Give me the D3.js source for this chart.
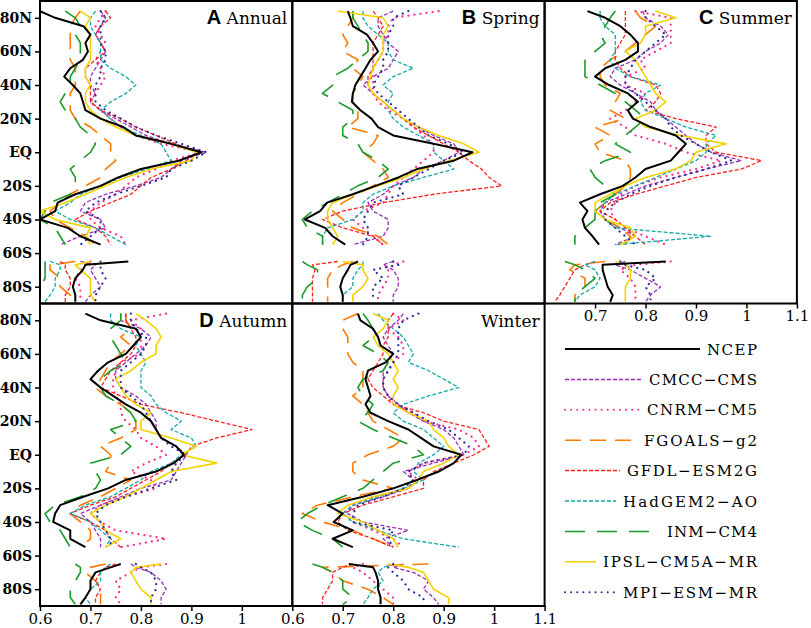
<!DOCTYPE html>
<html><head><meta charset="utf-8">
<script src="https://cdn.jsdelivr.net/npm/d3@7/dist/d3.min.js"></script>
<style>
html,body{margin:0;padding:0;background:#fff;}
svg{display:block;}
</style></head>
<body>
<svg id="chart" width="811" height="628"></svg>
<script>
// ---------------- DATA ----------------
const models = ["NCEP","CMCC−CMS","CNRM−CM5","FGOALS−g2","GFDL−ESM2G","HadGEM2−AO","INM−CM4","IPSL−CM5A−MR","MPI−ESM−MR"];
const lats = [84,80,75,70,65,60,55,50,45,40,35,30,25,20,15,10,5,0,-5,-10,-15,-20,-25,-30,-35,-40,-45,-50,-55,-60,-65,-67,-70,-75,-80,-85,-89];
const yTickValues = [80,60,40,20,0,-20,-40,-60,-80];
const yTickLabels = ["80N","60N","40N","20N","EQ","20S","40S","60S","80S"];
const xTickValues = [0.6,0.7,0.8,0.9,1,1.1];
const xTickLabels = ["0.6","0.7","0.8","0.9","1","1.1"];

const annual = [
 [0.60,0.63,0.686,0.70,0.69,0.695,0.685,0.66,0.648,0.665,0.68,0.685,0.69,0.72,0.765,0.79,0.86,0.92,0.875,0.80,0.755,0.72,0.67,0.635,0.63,0.60,0.655,0.68,0.72,null,0.775,0.69,0.685,0.67,0.665,0.67,0.67],
 [0.72,0.73,0.72,0.71,0.72,0.73,0.72,0.71,0.70,0.70,0.71,0.70,0.72,0.75,0.78,0.81,0.86,0.93,0.88,0.86,0.84,0.79,0.73,0.69,0.68,0.72,0.73,0.68,0.64,null,0.68,0.71,0.70,0.71,0.72,0.70,0.69],
 [0.73,0.72,0.71,0.72,0.73,0.72,0.71,0.72,0.73,0.72,0.71,0.70,0.72,0.74,0.76,0.79,0.84,0.92,0.86,0.83,0.79,0.77,0.75,0.72,0.70,0.70,0.72,0.76,0.77,null,0.70,0.69,0.68,0.67,0.68,0.68,0.68],
 [0.68,0.67,0.66,0.66,0.66,0.66,0.66,0.67,0.67,0.67,0.66,0.66,0.66,0.67,0.70,0.72,0.74,0.74,0.75,0.73,0.72,0.69,0.66,0.64,0.62,0.63,0.66,0.69,0.71,null,0.67,0.62,0.62,0.64,0.64,0.66,0.67],
 [0.73,0.74,0.72,0.71,0.72,0.73,0.71,0.69,0.69,0.70,0.70,0.70,0.72,0.76,0.79,0.83,0.87,0.91,0.89,0.86,0.82,0.80,0.78,0.74,0.70,0.67,0.71,0.73,0.74,null,0.64,0.65,0.65,0.66,0.66,0.65,0.65],
 [0.71,0.70,0.70,0.71,0.72,0.72,0.72,0.74,0.77,0.79,0.77,0.74,0.72,0.74,0.76,0.80,0.84,0.85,0.86,0.81,0.76,0.72,0.68,0.66,0.63,0.66,0.71,0.74,0.77,null,0.62,0.64,0.64,0.63,0.63,0.62,0.61],
 [0.65,0.67,0.68,0.67,0.68,0.68,0.68,0.67,0.66,0.66,0.65,0.64,0.65,0.67,0.68,0.70,0.71,0.70,0.68,0.66,0.67,0.67,0.66,0.62,0.61,0.60,0.63,0.64,0.65,null,0.61,0.61,0.61,0.61,0.60,0.60,0.60],
 [0.68,0.70,0.69,0.70,0.70,0.70,0.70,0.69,0.69,0.70,0.69,0.69,0.70,0.72,0.75,0.79,0.86,0.91,0.90,0.82,0.77,0.73,0.69,0.65,0.60,0.63,0.70,0.69,0.70,null,0.70,0.67,0.68,0.70,0.70,0.70,0.71],
 [0.72,0.73,0.72,0.72,0.72,0.73,0.73,0.72,0.72,0.71,0.71,0.71,0.73,0.76,0.79,0.83,0.88,0.93,0.90,0.86,0.85,0.80,0.75,0.71,0.69,0.72,0.72,0.70,0.68,null,0.72,0.72,0.72,0.73,0.72,0.71,0.71]
];
const spring = [
 [0.71,0.715,0.72,0.748,0.76,0.77,0.755,0.745,0.735,0.725,0.72,0.718,0.735,0.757,0.77,0.80,0.88,0.957,0.92,0.847,0.81,0.765,0.72,0.669,0.655,0.625,0.665,0.68,0.705,null,0.73,0.715,0.71,0.70,0.695,0.70,0.70],
 [0.80,0.77,0.77,0.78,0.79,0.81,0.80,0.79,0.76,0.74,0.76,0.78,0.80,0.82,0.85,0.88,0.92,0.93,0.90,0.86,0.84,0.80,0.78,0.75,0.76,0.79,0.79,0.78,0.72,null,0.80,0.78,0.80,0.81,0.81,0.80,0.80],
 [0.89,0.80,0.79,0.79,0.78,0.78,0.77,0.76,0.76,0.76,0.76,0.77,0.79,0.82,0.84,0.86,0.88,0.88,0.86,0.84,0.82,0.80,0.79,0.78,0.74,0.72,0.74,0.76,0.78,null,0.82,0.80,0.79,0.79,0.78,0.77,0.77],
 [0.72,0.72,0.71,0.70,0.71,0.70,0.73,0.72,0.74,0.73,0.72,0.72,0.73,0.73,0.71,0.77,0.76,0.74,0.76,0.78,0.79,0.76,0.73,0.70,0.68,0.70,0.72,0.77,0.79,null,0.72,0.70,0.68,0.67,0.67,0.67,0.67],
 [0.76,0.77,0.78,0.77,0.76,0.76,0.76,0.76,0.75,0.75,0.76,0.78,0.80,0.82,0.84,0.87,0.90,0.93,0.95,0.975,0.99,1.015,0.88,0.78,0.70,0.66,0.70,0.76,0.78,null,0.69,0.64,0.645,0.64,0.64,0.64,0.64],
 [0.74,0.74,0.75,0.77,0.79,0.79,0.80,0.84,0.80,0.78,0.80,0.79,0.79,0.80,0.82,0.85,0.88,0.88,0.90,0.92,0.86,0.80,0.76,0.74,0.74,0.72,0.67,0.66,0.66,null,0.74,0.74,0.73,0.72,0.72,0.70,0.70],
 [0.72,0.72,0.73,0.74,0.75,0.75,0.73,0.71,0.68,0.68,0.66,0.69,0.72,0.72,0.70,0.70,0.73,0.74,0.77,0.79,0.77,0.73,0.70,0.67,0.64,0.62,0.63,0.66,0.66,null,0.62,0.63,0.65,0.65,0.63,0.62,0.62],
 [0.69,0.78,0.79,0.78,0.78,0.78,0.77,0.76,0.755,0.75,0.76,0.78,0.80,0.82,0.85,0.89,0.94,0.97,0.91,0.86,0.82,0.77,0.72,0.68,0.67,0.67,0.68,0.69,0.68,null,0.70,0.74,0.74,0.75,0.74,0.72,0.72],
 [0.83,0.80,0.80,0.79,0.79,0.79,0.78,0.78,0.77,0.76,0.77,0.79,0.81,0.83,0.85,0.87,0.91,0.94,0.90,0.87,0.84,0.81,0.82,0.76,0.75,0.74,0.75,0.75,0.74,null,0.80,0.81,0.76,0.78,0.76,0.76,0.76]
];
const summer = [
 [0.685,0.72,0.75,0.77,0.785,0.785,0.76,0.72,0.70,0.728,0.765,0.785,0.765,0.775,0.81,0.86,0.88,0.865,0.85,0.80,0.78,0.755,0.71,0.67,0.685,0.675,0.68,0.695,0.708,null,0.84,0.715,0.715,0.72,0.725,0.735,0.73],
 [0.794,0.80,0.83,0.845,0.83,0.80,0.78,0.74,0.73,0.75,0.78,0.81,0.82,0.84,0.86,0.88,0.90,0.93,0.99,0.92,0.86,0.80,0.76,0.72,0.71,0.72,0.75,0.78,0.74,null,0.76,0.74,0.77,0.80,0.83,0.81,0.80],
 [0.78,0.85,0.85,0.85,0.85,0.82,0.79,0.80,0.76,0.76,0.80,0.78,0.76,0.73,0.76,0.78,0.84,0.88,0.95,0.90,0.83,0.78,0.75,0.74,0.73,0.74,0.76,0.80,0.84,null,0.85,0.78,0.75,0.77,0.78,0.78,0.78],
 [0.78,0.79,0.82,0.80,0.78,0.76,0.73,0.71,0.71,0.72,0.75,0.74,0.73,0.76,0.70,0.73,0.70,0.71,0.76,0.77,0.77,0.76,0.74,0.72,0.70,0.72,0.75,0.77,0.76,null,0.72,0.66,0.65,0.68,0.68,0.66,0.66],
 [0.76,0.76,0.76,0.76,0.75,0.74,0.74,0.75,0.77,0.82,0.83,0.82,0.80,0.86,0.94,0.92,0.92,0.94,1.03,0.99,0.90,0.84,0.78,0.73,0.71,0.74,0.76,0.78,0.80,null,0.70,0.68,0.66,0.65,0.64,0.63,0.62],
 [0.71,0.71,0.72,0.74,0.74,0.74,0.73,0.74,0.77,0.83,0.80,0.79,0.80,0.84,0.88,0.94,0.92,0.92,0.90,0.86,0.82,0.78,0.74,0.72,0.70,0.72,0.74,0.93,0.74,null,0.70,0.68,0.70,0.71,0.70,0.67,0.66],
 [0.74,0.73,0.72,0.71,0.72,0.70,0.68,0.68,0.68,0.71,0.74,0.76,0.78,0.80,0.78,0.76,0.74,0.77,0.72,0.69,0.70,0.72,0.74,0.71,0.70,0.70,0.68,0.66,0.66,null,0.64,0.66,0.68,0.70,0.68,0.66,0.66],
 [0.82,0.86,0.80,0.80,0.79,0.76,0.78,0.79,0.80,0.81,0.82,0.84,0.82,0.78,0.80,0.87,0.96,0.90,0.89,0.86,0.80,0.76,0.73,0.70,0.70,0.72,0.77,0.78,0.75,null,0.74,0.76,0.77,0.77,0.76,0.76,0.76],
 [0.80,0.80,0.82,0.84,0.82,0.80,0.78,0.77,0.76,0.76,0.78,0.80,0.82,0.84,0.85,0.87,0.90,0.93,0.97,0.92,0.86,0.81,0.77,0.74,0.72,0.72,0.74,0.76,0.78,null,0.75,0.76,0.80,0.82,0.80,0.81,0.81]
];
const autumn = [
 [0.69,0.72,0.79,0.80,0.785,0.77,0.735,0.715,0.70,0.72,0.745,0.77,0.80,0.82,0.83,0.84,0.87,0.885,0.865,0.83,0.77,0.735,0.686,0.64,0.63,0.626,0.66,0.66,0.69,null,0.76,0.74,0.71,0.70,0.70,0.69,0.68],
 [0.76,0.76,0.80,0.82,0.81,0.79,0.77,0.75,0.75,0.76,0.79,0.81,0.82,0.83,0.83,0.84,0.87,0.89,0.88,0.87,0.86,0.80,0.76,0.72,0.68,0.70,0.71,0.72,0.72,null,0.78,0.79,0.82,0.84,0.85,0.84,0.84],
 [0.85,0.78,0.80,0.80,0.80,0.80,0.76,0.75,0.745,0.745,0.75,0.76,0.76,0.77,0.79,0.80,0.83,0.85,0.81,0.78,0.82,0.83,0.77,0.72,0.70,0.72,0.75,0.85,0.76,null,0.85,0.80,0.78,0.75,0.76,0.75,0.76],
 [0.77,0.77,0.78,0.76,0.78,0.76,0.74,0.73,0.72,0.71,0.73,0.76,0.78,0.79,0.79,0.76,0.72,0.74,0.74,0.73,0.78,0.75,0.72,0.68,0.66,0.68,0.70,0.70,0.68,null,0.73,0.70,0.69,0.71,0.72,0.72,0.72],
 [0.77,0.77,0.78,0.79,0.79,0.78,0.76,0.74,0.73,0.72,0.76,0.80,0.88,0.95,1.02,0.95,0.90,0.89,0.86,0.84,0.81,0.78,0.75,0.70,0.66,0.70,0.73,0.74,0.76,null,0.75,0.73,0.72,0.71,0.72,0.71,0.71],
 [0.74,0.74,0.76,0.80,0.79,0.80,0.81,0.80,0.80,0.80,0.82,0.83,0.85,0.88,0.86,0.90,0.91,0.88,0.86,0.82,0.80,0.77,0.74,0.69,0.66,0.70,0.72,0.74,0.73,null,0.74,0.73,0.72,0.72,0.70,0.69,0.70],
 [0.76,0.76,0.74,0.74,0.75,0.76,0.77,0.74,0.72,0.72,0.73,0.76,0.78,0.79,0.74,0.76,0.78,0.76,0.70,0.71,0.72,0.71,0.68,0.63,0.61,0.62,0.64,0.65,0.66,null,0.67,0.68,0.68,0.67,0.66,0.66,0.67],
 [0.79,0.81,0.83,0.84,0.83,0.83,0.80,0.78,0.75,0.76,0.77,0.79,0.82,0.80,0.80,0.86,0.91,0.88,0.95,0.86,0.83,0.80,0.77,0.73,0.70,0.72,0.73,0.76,0.73,null,0.84,0.79,0.78,0.79,0.80,0.82,0.82],
 [0.78,0.78,0.79,0.81,0.81,0.80,0.78,0.76,0.76,0.76,0.78,0.80,0.81,0.82,0.83,0.84,0.86,0.89,0.87,0.86,0.87,0.82,0.77,0.73,0.71,0.72,0.73,0.74,0.74,null,0.79,0.80,0.82,0.83,0.83,0.82,0.82]
];
const winter = [
 [0.73,0.735,0.76,0.77,0.775,0.80,0.785,0.75,0.745,0.75,0.755,0.745,0.755,0.79,0.83,0.855,0.88,0.935,0.92,0.89,0.847,0.80,0.74,0.67,0.70,0.682,0.72,0.68,0.72,null,0.712,0.76,0.765,0.77,0.77,0.775,0.775],
 [0.82,0.81,0.79,0.78,0.79,0.80,0.79,0.78,0.78,0.78,0.79,0.81,0.83,0.86,0.90,0.92,0.93,0.94,0.88,0.82,0.84,0.83,0.78,0.72,0.71,0.74,0.83,0.78,0.80,null,0.82,0.80,0.84,0.87,0.86,0.88,0.89],
 [0.80,0.82,0.79,0.81,0.82,0.82,0.80,0.79,0.78,0.78,0.79,0.80,0.84,0.86,0.93,0.96,0.97,0.94,0.86,0.83,0.85,0.83,0.76,0.72,0.70,0.72,0.76,0.80,0.82,null,0.74,0.72,0.74,0.76,0.78,0.80,0.80],
 [0.73,0.70,0.70,0.71,0.71,0.71,0.72,0.74,0.74,0.74,0.72,0.74,0.75,0.76,0.79,0.82,0.80,0.75,0.72,0.72,0.74,0.80,0.72,0.65,0.62,0.66,0.72,0.76,0.80,null,0.87,0.66,0.68,0.70,0.75,0.78,0.80],
 [0.80,0.79,0.79,0.79,0.78,0.78,0.77,0.76,0.75,0.76,0.78,0.80,0.86,0.90,0.97,0.98,0.99,0.96,0.92,0.88,0.86,0.86,0.80,0.74,0.70,0.69,0.71,0.76,0.80,null,0.72,0.70,0.68,0.68,0.67,0.66,0.66],
 [0.77,0.78,0.80,0.82,0.83,0.84,0.83,0.87,0.90,0.93,0.87,0.82,0.80,0.82,0.86,0.88,0.90,0.88,0.85,0.84,0.86,0.82,0.77,0.72,0.70,0.72,0.77,0.82,0.93,null,0.80,0.78,0.77,0.78,0.76,0.75,0.74],
 [0.74,0.75,0.76,0.76,0.74,0.77,0.79,0.78,0.74,0.73,0.74,0.76,0.75,0.73,0.76,0.80,0.84,0.86,0.80,0.78,0.76,0.74,0.70,0.66,0.63,0.61,0.64,0.68,0.70,null,0.64,0.66,0.68,0.70,0.70,0.72,0.70],
 [0.76,0.79,0.78,0.76,0.77,0.79,0.80,0.81,0.80,0.81,0.80,0.80,0.83,0.87,0.88,0.90,0.91,0.93,0.90,0.86,0.85,0.83,0.76,0.71,0.69,0.74,0.77,0.80,0.81,null,0.79,0.83,0.86,0.87,0.88,0.91,0.91],
 [0.85,0.82,0.81,0.81,0.81,0.81,0.80,0.79,0.78,0.78,0.79,0.81,0.84,0.87,0.91,0.93,0.95,0.94,0.86,0.83,0.84,0.82,0.78,0.73,0.72,0.72,0.80,0.79,0.80,null,0.80,0.79,0.80,0.82,0.83,0.86,0.86]
];

// ---------------- STYLES / LAYOUT ----------------
const seriesStyle = [
  {color:"#000000", dash:null,      width:2.0, cap:"butt"},
  {color:"#9a2fb5", dash:"4,2",     width:1.3, cap:"butt"},
  {color:"#ff2f8f", dash:"0.1,6",   width:2.2, cap:"round"},
  {color:"#ff7a00", dash:"16,9",    width:1.6, cap:"butt"},
  {color:"#ff2020", dash:"4,2",     width:1.3, cap:"butt"},
  {color:"#12a8a8", dash:"4,2",     width:1.3, cap:"butt"},
  {color:"#1c9a2c", dash:"20,12",   width:1.6, cap:"butt"},
  {color:"#f2d200", dash:null,      width:1.6, cap:"butt"},
  {color:"#2d2d9a", dash:"0.1,6",   width:2.2, cap:"round"}
];
const legendWidths = [50,108,110,113,130,134,90,154,134];

const left = 40, top0 = 1, pw = 252.3, ph = 302.5;
const panels = [
  {letter:"A", name:"Annual", data:annual, col:0, row:0, yLab:true,  xT:[]},
  {letter:"B", name:"Spring", data:spring, col:1, row:0, yLab:false, xT:[]},
  {letter:"C", name:"Summer", data:summer, col:2, row:0, yLab:false, xT:[0.7,0.8,0.9,1,1.1]},
  {letter:"D", name:"Autumn", data:autumn, col:0, row:1, yLab:true,  xT:[0.6,0.7,0.8,0.9,1]},
  {letter:"",  name:"Winter", data:winter, col:1, row:1, yLab:false, xT:[0.6,0.7,0.8,0.9,1,1.1]}
];

const svg = d3.select("#chart");
const defs = svg.append("defs");

panels.forEach((p, pi) => {
  const x0 = left + p.col*pw, y0 = top0 + p.row*ph;
  const x = d3.scaleLinear().domain([0.6,1.1]).range([x0, x0+pw]);
  const y = d3.scaleLinear().domain([90,-90]).range([y0, y0+ph]);
  const g = svg.append("g");

  defs.append("clipPath").attr("id","clip"+pi).append("rect")
    .attr("x",x0).attr("y",y0).attr("width",pw).attr("height",ph);

  const line = d3.line()
    .defined(d => d.v != null)
    .x(d => x(d.v)).y(d => y(d.lat));

  const order = [1,2,3,4,5,6,7,8,0];
  const lg = g.append("g").attr("clip-path","url(#clip"+pi+")");
  order.forEach(si => {
    const st = seriesStyle[si];
    const pts = lats.map((lat,i) => ({lat, v: p.data[si][i]}));
    lg.append("path").attr("d", line(pts))
      .attr("fill","none").attr("stroke",st.color)
      .attr("stroke-width",st.width)
      .attr("stroke-linecap",st.cap)
      .attr("stroke-linejoin","round")
      .attr("stroke-dasharray",st.dash);
  });

  // frame
  g.append("rect").attr("x",x0).attr("y",y0).attr("width",pw).attr("height",ph)
    .attr("fill","none").attr("stroke","#000").attr("stroke-width",2);

  // y axis labels
  if (p.yLab) {
    const ax = d3.axisLeft(y).tickValues(yTickValues)
      .tickFormat(d => yTickLabels[yTickValues.indexOf(d)])
      .tickSize(5).tickPadding(3);
    const ag = g.append("g").attr("transform",`translate(${x0},0)`).call(ax);
    ag.select(".domain").remove();
    ag.selectAll("line").attr("stroke","#000").attr("stroke-width",1.5);
    ag.selectAll("text").attr("font-family","'DejaVu Serif', serif")
      .attr("font-weight","bold").attr("font-size",14).attr("fill","#000");
  }
  // x axis labels
  if (p.xT.length) {
    const ax = d3.axisBottom(x).tickValues(p.xT)
      .tickFormat(d => xTickLabels[xTickValues.indexOf(d)])
      .tickSize(5).tickPadding(2);
    const ag = g.append("g").attr("transform",`translate(0,${y0+ph})`).call(ax);
    ag.select(".domain").remove();
    ag.selectAll("line").attr("stroke","#000").attr("stroke-width",1.5);
    ag.selectAll("text").attr("font-family","'DejaVu Serif', serif")
      .attr("font-size",15).attr("fill","#000");
  }
  // title
  const t = g.append("text").attr("x", x0+pw-5).attr("y", y0+23)
    .attr("text-anchor","end").attr("fill","#000");
  if (p.letter) t.append("tspan").text(p.letter)
      .attr("font-family","'Liberation Sans', Arial, sans-serif")
      .attr("font-weight","bold").attr("font-size",20);
  t.append("tspan").text((p.letter ? "\u2009" : "") + p.name)
      .attr("font-family","'DejaVu Serif', serif").attr("font-size",17)
      .attr("dx", p.letter ? 2 : 0);
});

// legend
const legX0 = 565, legXText = 757, legY0 = 349, legDy = 30.4;
models.forEach((m, i) => {
  const st = seriesStyle[i];
  const yy = legY0 + i*legDy;
  svg.append("text").attr("x", legXText).attr("y", yy+5.5)
    .attr("text-anchor","end").attr("font-family","'DejaVu Serif', serif")
    .attr("font-size",15).attr("fill","#000")
    .attr("textLength", legendWidths[i]).attr("lengthAdjust","spacing")
    .text(m);
  const tStart = legXText - legendWidths[i];
  svg.append("line").attr("x1", legX0).attr("x2", tStart - 7)
    .attr("y1", yy).attr("y2", yy)
    .attr("stroke", st.color).attr("stroke-width", i===0 ? 1.8 : (st.cap==="round"?2:1.5))
    .attr("stroke-linecap", st.cap)
    .attr("stroke-dasharray", st.dash);
});
</script>
</body></html>
